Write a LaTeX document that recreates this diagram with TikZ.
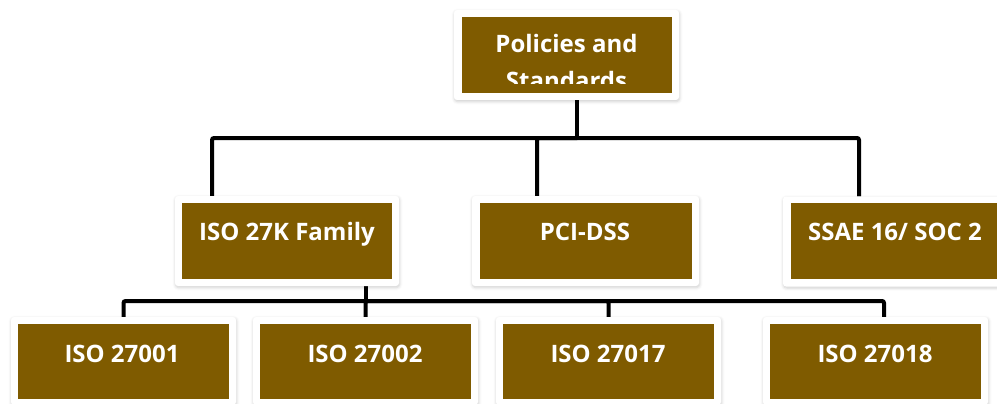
\documentclass[tikz,border=0pt]{standalone}
\usepackage{fontspec}
\setmainfont{Open Sans}
\usetikzlibrary{shadows.blur,backgrounds}
\definecolor{boxbrown}{RGB}{127,91,0}
\begin{document}
\begin{tikzpicture}[x=1pt,y=-1pt,
  frame/.style={fill=white, rounded corners=3pt, inner sep=0pt, minimum width=225pt, minimum height=90pt,
    blur shadow={shadow xshift=0.5pt, shadow yshift=-1.5pt, shadow blur radius=3pt, shadow opacity=20}},
  brownbox/.style={fill=boxbrown, inner sep=0pt, minimum width=210pt, minimum height=76pt},
  lbl/.style={text=white, font=\bfseries\fontsize{24}{28}\selectfont, anchor=base, inner sep=0pt},
  wire/.style={line width=4pt, black, rounded corners=2pt}]
\useasboundingbox (0,0) rectangle (997,404);
% boxes
\node[frame] (top) at (566.5,55) {};
\node[brownbox] (topIn) at (top) {};
\node[frame, minimum width=224pt] (iso) at (287,241) {};
\node[brownbox] (isoIn) at (iso) {};
\node[frame, minimum width=227pt] (pci) at (585.5,241) {};
\node[brownbox, minimum width=212pt] (pciIn) at (pci) {};
\node[frame] (ssae) at (895.5,241.5) {};
\node[brownbox] (ssaeIn) at (895.5,241) {};
\node[frame, minimum height=88pt] (a) at (123.5,361) {};
\node[brownbox, minimum width=211pt, minimum height=75pt] (aIn) at ([yshift=-0.5pt]a.center) {};
\node[frame, minimum height=88pt] (b) at (365.5,361) {};
\node[brownbox, minimum width=211pt, minimum height=75pt] (bIn) at ([yshift=-0.5pt]b.center) {};
\node[frame, minimum height=88pt] (c) at (608.5,361) {};
\node[brownbox, minimum width=211pt, minimum height=75pt] (cIn) at ([yshift=-0.5pt]c.center) {};
\node[frame, minimum height=88pt] (d) at (875.5,361) {};
\node[brownbox, minimum width=211pt, minimum height=75pt] (dIn) at ([yshift=-0.5pt]d.center) {};
% labels
\node[lbl] (t1) at (566.5,53) {Policies and};
\begin{scope}
  \clip (462,17) rectangle (672,84);
  \node[lbl] (t2) at (566.5,90) {Standards};
\end{scope}
\node[lbl] (tIso) at (287,240) {ISO 27K Family};
\node[lbl] (tPci) at (585,240) {PCI-DSS};
\node[lbl] (tSsae) at (895,240) {SSAE 16/ SOC 2};
\node[lbl] (tA) at (122,362) {ISO 27001};
\node[lbl] (tB) at (365,362) {ISO 27002};
\node[lbl] (tC) at (608,362) {ISO 27017};
\node[lbl] (tD) at (875,362) {ISO 27018};
% connectors, under the boxes
\coordinate (bus1) at (577,138);
\coordinate (bus2) at (366,301);
\begin{scope}[on background layer]
\draw[wire] ([xshift=10.5pt]top.south) -- (bus1);
\draw[wire] (bus1) -| ([xshift=-75pt]iso.north);
\draw[wire] (bus1) -| ([xshift=-48.5pt]pci.north);
\draw[wire] (bus1) -| ([xshift=-36.5pt]ssae.north);
\draw[wire] ([xshift=79pt]iso.south) -- (bus2);
\draw[wire] (bus2) -| (a.north);
\draw[wire] (bus2) -| (b.north);
\draw[wire] (bus2) -| (c.north);
\draw[wire] (bus2) -| ([xshift=8.5pt]d.north);
\end{scope}
\end{tikzpicture}
\end{document}
